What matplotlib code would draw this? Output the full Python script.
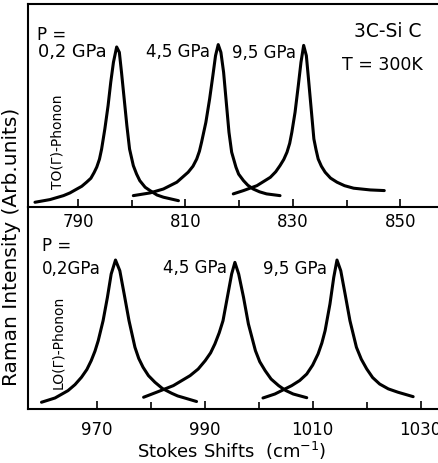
import matplotlib
matplotlib.use('Agg')
from matplotlib import pyplot as plt

# ---- TO(Gamma) phonon, upper panel (cm-1, arb. units) ----
to_02_x = [782.0, 784.8, 787.3, 788.5, 789.8, 790.7, 791.6, 792.4, 793.0, 793.5, 794.0, 794.4,
           795.0, 795.6, 796.1, 796.6, 797.2, 797.7, 798.1, 798.6, 799.1, 799.6, 800.3, 800.9,
           801.5, 802.5, 803.4, 804.7, 805.9, 808.7]
to_02_y = [1.7, 3.4, 5.9, 7.6, 10.1, 11.8, 14.4, 16.9, 20.5, 24.0, 29.0, 35.4,
           48.1, 62.8, 77.7, 90.3, 100.0, 96.6, 84.0, 67.1, 50.2, 35.4, 24.9, 19.6,
           15.4, 11.2, 9.1, 6.3, 4.9, 2.7]

to_45_x = [800.3, 803.4, 805.9, 808.4, 810.5, 811.4, 812.1, 812.6, 813.0, 813.8, 814.5, 815.1,
           815.6, 816.1, 816.6, 817.1, 817.6, 818.1, 818.6, 819.4, 819.9, 820.8, 821.6, 822.6,
           823.8, 825.1, 827.6]
to_45_y = [5.9, 7.6, 10.1, 14.4, 20.7, 24.5, 29.1, 34.0, 39.7, 52.3, 67.1, 81.8,
           94.5, 101.5, 96.6, 84.0, 65.0, 46.0, 33.4, 23.9, 19.5, 15.4, 12.5, 10.1,
           8.3, 7.0, 5.9]

to_95_x = [818.9, 820.8, 823.3, 825.8, 826.8, 827.6, 828.3, 828.9, 829.4, 829.8, 830.4, 831.0,
           831.5, 832.0, 832.5, 832.9, 833.4, 833.9, 834.3, 834.7, 835.3, 836.0, 837.0, 838.2,
           839.6, 841.3, 844.4, 847.0]
to_95_y = [7.0, 9.1, 12.2, 17.5, 21.0, 24.9, 28.8, 33.4, 39.0, 46.0, 58.7, 75.5,
           90.3, 101.0, 94.5, 79.7, 60.8, 41.8, 35.0, 29.1, 24.5, 20.7, 17.0, 14.4,
           12.2, 10.6, 9.5, 9.1]

# ---- LO(Gamma) phonon, lower panel ----
lo_02_x = [959.8, 962.3, 964.7, 966.0, 967.2, 968.2, 969.0, 969.7, 970.3, 971.2, 972.0, 972.7,
           973.5, 974.3, 975.1, 976.0, 977.1, 977.8, 978.6, 979.6, 980.8, 982.2, 983.9, 985.0,
           986.3, 988.5]
lo_02_y = [3.2, 6.1, 11.1, 15.2, 20.2, 25.5, 31.5, 38.0, 45.1, 58.7, 74.6, 90.5,
           100.0, 92.7, 76.9, 58.7, 40.6, 33.0, 27.0, 21.3, 16.8, 12.5, 9.3, 7.5,
           6.1, 3.7]

lo_45_x = [978.7, 981.1, 984.2, 987.3, 988.8, 990.1, 991.1, 991.9, 992.7, 993.4, 994.2, 995.0,
           995.6, 996.3, 997.2, 998.1, 999.4, 1000.2, 1001.2, 1002.3, 1003.7, 1005.0, 1006.4,
           1008.9]
lo_45_y = [6.6, 10.0, 14.5, 21.3, 25.8, 31.5, 36.8, 42.9, 50.5, 58.7, 74.6, 90.5,
           98.4, 90.5, 74.6, 56.5, 38.3, 30.8, 24.7, 19.0, 14.5, 11.2, 8.8,
           6.3]

lo_95_x = [1000.8, 1003.0, 1006.1, 1007.6, 1008.9, 1010.0, 1011.0, 1011.7, 1012.3, 1013.2, 1013.9,
           1014.5, 1015.2, 1016.0, 1016.9, 1018.1, 1019.0, 1020.0, 1021.1, 1022.4, 1024.0, 1025.8,
           1028.6]
lo_95_y = [6.1, 8.8, 14.5, 18.0, 22.4, 28.5, 36.1, 43.5, 51.9, 70.1, 88.2,
           100.0, 92.7, 76.9, 58.7, 40.6, 32.5, 25.9, 20.0, 15.6, 12.3, 10.0,
           7.0]

to_ticks = [790, 810, 830, 850]
to_minor = [800, 820, 840]
lo_ticks = [970, 990, 1010, 1030]
lo_minor = [980, 1000, 1020]

W, H = 438, 464
fig = plt.figure(figsize=(W / 100, H / 100), dpi=100)
plt.rcParams['font.family'] = 'DejaVu Sans'

lw = 2.2
ax1 = fig.add_axes([28 / W, 1 - 208 / H, 1 - 28 / W, 203 / H])
ax2 = fig.add_axes([28 / W, 1 - 410 / H, 1 - 28 / W, 202 / H])

for x, y in [(to_02_x, to_02_y), (to_45_x, to_45_y), (to_95_x, to_95_y)]:
    ax1.plot(x, y, color='black', lw=lw, solid_joinstyle='round', solid_capstyle='round')
for x, y in [(lo_02_x, lo_02_y), (lo_45_x, lo_45_y), (lo_95_x, lo_95_y)]:
    ax2.plot(x, y, color='black', lw=lw, solid_joinstyle='round', solid_capstyle='round')

ax1.set_xlim(780.7, 857.0)
ax1.set_ylim(-1.3, 127.2)
ax2.set_xlim(957.3, 1033.2)
ax2.set_ylim(-1.4, 136.1)

ax1.set_xticks(to_ticks)
ax1.set_xticks(to_minor, minor=True)
ax2.set_xticks(lo_ticks)
ax2.set_xticks(lo_minor, minor=True)

for ax, pad in [(ax1, 3.5), (ax2, 8.0)]:
    ax.set_yticks([])
    ax.spines['right'].set_visible(False)
    for s in ax.spines.values():
        s.set_linewidth(1.5)
    ax.tick_params(axis='x', which='major', direction='in', length=5.5, width=1.2,
                   labelsize=12, pad=pad)
    ax.tick_params(axis='x', which='minor', direction='in', length=5, width=1.2)
ax2.spines['top'].set_visible(False)
ax1.patch.set_alpha(0)
ax2.patch.set_alpha(0)

fs = 12
# upper annotations
ax1.text(782.4, 108.2, 'P =', fontsize=fs, va='center', ha='left')
ax1.text(782.6, 97.5, '0,2 GPa', fontsize=12.8, va='center', ha='left')
ax1.text(802.7, 97.5, '4,5 GPa', fontsize=fs, va='center', ha='left')
ax1.text(818.6, 96.5, '9,5 GPa', fontsize=fs, va='center', ha='left')
ax1.text(853.9, 110.4, '3C-Si C', fontsize=13.5, va='center', ha='right')
ax1.text(854.2, 89.2, 'T = 300K', fontsize=12.5, va='center', ha='right')
ax1.text(786.1, 40.5, 'TO(Γ)-Phonon', fontsize=10, rotation=90, va='center', ha='center')

# lower annotations
ax2.text(959.9, 109.9, 'P =', fontsize=fs, va='center', ha='left')
ax2.text(959.9, 94.9, '0,2GPa', fontsize=fs, va='center', ha='left')
ax2.text(982.3, 95.2, '4,5 GPa', fontsize=fs, va='center', ha='left')
ax2.text(1000.8, 94.9, '9,5 GPa', fontsize=fs, va='center', ha='left')
ax2.text(962.9, 44.9, 'LO(Γ)-Phonon', fontsize=10, rotation=90, va='center', ha='center')

fig.text(12 / W, 1 - 247 / H, 'Raman Intensity (Arb.units)', fontsize=14.5,
         rotation=90, va='center', ha='center')
fig.text(232 / W, 1 - 451 / H, 'Stokes Shifts  (cm$^{-1}$)', fontsize=13,
         va='center', ha='center')

fig.savefig('out.png', dpi=100)
